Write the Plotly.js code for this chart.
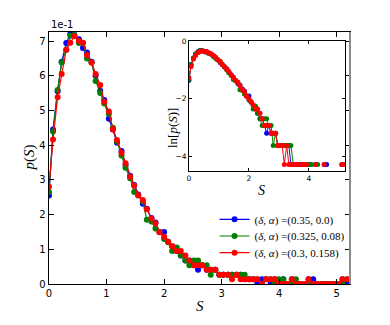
<!DOCTYPE html>
<html>
<head>
<meta charset="utf-8">
<script src="https://cdn.plot.ly/plotly-3.0.1.min.js"></script>
<style>
  html, body { margin: 0; padding: 0; background: #fff; }
  #chart { width: 390px; height: 325px; }
</style>
</head>
<body>
<div id="chart"></div>
<script>
// bin centres S, shared by the three runs
const S = [
  0.00, 0.07, 0.15, 0.22, 0.30, 0.37, 0.44, 0.52, 0.59, 0.66,
  0.74, 0.81, 0.89, 0.96, 1.04, 1.11, 1.18, 1.26, 1.33, 1.41,
  1.48, 1.55, 1.63, 1.70, 1.78, 1.85, 1.92, 2.00, 2.07, 2.14,
  2.22, 2.29, 2.37, 2.44, 2.52, 2.59, 2.66, 2.74, 2.81, 2.89,
  2.96, 3.03, 3.11, 3.18, 3.26, 3.33, 3.40, 3.48, 3.55, 3.62,
  3.70, 3.77, 3.85, 3.92, 3.99, 4.07, 4.14, 4.22, 4.29, 4.36,
  4.44, 4.51, 4.59, 4.66, 4.74, 4.81, 4.88, 4.96, 5.03, 5.10,
  5.18
];

// p(S) in units of 1e-1
const pBlue = [
  2.55, 4.45, 5.55, 6.40, 6.94, 7.20, 7.18, 7.05, 6.80, 6.67,
  6.40, 6.00, 5.57, 5.30, 4.76, 4.45, 4.07, 3.83, 3.43, 3.12,
  2.85, 2.58, 2.31, 2.17, 1.90, 1.77, 1.50, 1.50, 1.22, 1.09,
  0.95, 0.82, 0.68, 0.68, 0.54, 0.41, 0.54, 0.41, 0.41, 0.41,
  0.27, 0.27, 0.27, 0.27, 0.27, 0.27, 0.14, 0.14, 0.14, 0,
  0.14, 0.14, 0, 0.14, 0, 0.14, 0, 0.14, 0, 0,
  0, 0.14, 0.14, 0, 0, 0, 0, 0, 0, 0.14,
  0
];
const pGreen = [
  2.65, 4.39, 5.59, 6.38, 6.75, 7.15, 7.18, 6.94, 6.94, 6.50,
  6.38, 5.85, 5.50, 5.20, 4.90, 4.50, 4.10, 3.70, 3.35, 3.05,
  2.65, 2.55, 2.38, 1.85, 1.80, 1.60, 1.50, 1.30, 1.20, 0.95,
  1.05, 0.82, 0.68, 0.54, 0.68, 0.68, 0.54, 0.54, 0.27, 0.41,
  0.27, 0.27, 0.27, 0.27, 0.27, 0.27, 0.27, 0.14, 0.14, 0.14,
  0, 0.14, 0.14, 0, 0.14, 0.14, 0, 0, 0.14, 0,
  0, 0, 0, 0, 0, 0, 0, 0, 0, 0,
  0.14
];
const pRed = [
  2.80, 4.16, 5.38, 6.05, 6.75, 6.95, 7.14, 7.00, 6.95, 6.60,
  6.38, 6.05, 5.73, 5.25, 4.97, 4.46, 4.15, 3.78, 3.48, 3.09,
  2.83, 2.56, 2.42, 2.15, 1.89, 1.75, 1.49, 1.36, 1.22, 1.09,
  0.95, 0.95, 0.82, 0.68, 0.54, 0.54, 0.54, 0.41, 0.41, 0.41,
  0.27, 0.27, 0.27, 0.14, 0.27, 0.14, 0.14, 0.14, 0.14, 0.14,
  0, 0.14, 0.14, 0.14, 0, 0, 0, 0.14, 0, 0,
  0, 0.14, 0, 0, 0, 0, 0, 0, 0, 0.14,
  0.14
];

const names = [
  '(<i>δ</i>, <i>α</i>) =(0.35, 0.0)',
  '(<i>δ</i>, <i>α</i>) =(0.325, 0.08)',
  '(<i>δ</i>, <i>α</i>) =(0.3, 0.158)'
];
const colors = ['#0000ff', '#008000', '#ff0000'];
const series = [pBlue, pGreen, pRed];
const legendIds = ['legend', 'legend2', 'legend3'];

const traces = [];
// main panel
series.forEach((p, k) => {
  traces.push({
    x: S, y: p, mode: 'lines+markers', name: names[k],
    legend: legendIds[k],
    line: { color: colors[k], width: 1.2 },
    marker: { color: colors[k], size: 6 },
    xaxis: 'x', yaxis: 'y'
  });
});
// inset: ln of the same histograms (empty bins dropped)
series.forEach((p, k) => {
  traces.push({
    x: S, y: p.map(v => v > 0 ? Math.log(v * 0.1) : null),
    mode: 'lines+markers', showlegend: false,
    line: { color: colors[k], width: 1 },
    marker: { color: colors[k], size: 5 },
    xaxis: 'x2', yaxis: 'y2'
  });
});

const tickFont = { family: 'DejaVu Sans', size: 10, color: '#000' };
const smallFont = { family: 'DejaVu Sans', size: 7.5, color: '#000' };
const serif = 'Liberation Serif';

function legendAt(y) {
  return {
    x: 0.55, y: y, xanchor: 'left', yanchor: 'top',
    bgcolor: 'rgba(0,0,0,0)', borderwidth: 0, itemwidth: 30,
    font: { family: serif, size: 11, color: '#000' }
  };
}

const layout = {
  width: 390, height: 325,
  margin: { l: 49, r: 40, t: 32, b: 41 },
  paper_bgcolor: '#fff', plot_bgcolor: '#fff',
  showlegend: true,
  legend: legendAt(0.314),
  legend2: legendAt(0.248),
  legend3: legendAt(0.182),
  xaxis: {
    domain: [0, 1], range: [0, 5.23],
    tickvals: [0, 1, 2, 3, 4, 5],
    ticks: 'inside', ticklen: 5, tickcolor: '#000',
    showline: true, linecolor: '#000', linewidth: 1.3, mirror: 'ticks',
    showgrid: false, zeroline: false, tickfont: tickFont
  },
  yaxis: {
    domain: [0, 1], range: [0, 7.26],
    tickvals: [0, 1, 2, 3, 4, 5, 6, 7],
    ticks: 'inside', ticklen: 5, tickcolor: '#000',
    showline: true, linecolor: '#000', linewidth: 1.3, mirror: 'ticks',
    showgrid: false, zeroline: false, tickfont: tickFont
  },
  xaxis2: {
    domain: [0.465, 0.983], anchor: 'y2', range: [0, 5.2],
    tickvals: [0, 2, 4],
    ticks: 'inside', ticklen: 3, tickcolor: '#000',
    showline: true, linecolor: '#000', linewidth: 1, mirror: 'ticks',
    showgrid: false, zeroline: false, tickfont: smallFont
  },
  yaxis2: {
    domain: [0.448, 0.964], anchor: 'x2', range: [-4.5, 0],
    tickvals: [-4, -2, 0], ticktext: ['−4', '−2', '0'],
    ticks: 'inside', ticklen: 3, tickcolor: '#000',
    showline: true, linecolor: '#000', linewidth: 1, mirror: 'ticks',
    showgrid: false, zeroline: false, tickfont: smallFont
  },
  shapes: [
    // right spine of the main panel renders grey in the original
    { type: 'line', xref: 'paper', yref: 'paper', x0: 1, x1: 1, y0: 0, y1: 1,
      line: { color: '#8c8c8c', width: 2 } }
  ],
  annotations: [
    { text: '1e-1', xref: 'paper', yref: 'paper', x: 0, y: 1, xanchor: 'left', yanchor: 'bottom',
      yshift: 0, showarrow: false, font: tickFont },
    { text: '<i>p</i>(<i>S</i>)', xref: 'paper', yref: 'paper', x: 0, y: 0.5, xshift: -31,
      textangle: -90, showarrow: false, font: { family: serif, size: 15, color: '#000' } },
    { text: '<i>S</i>', xref: 'paper', yref: 'paper', x: 0.5, y: 0, yshift: -22,
      yanchor: 'middle', showarrow: false, font: { family: serif, size: 15, color: '#000' } },
    { text: 'ln[<i>p</i>(<i>S</i>)]', xref: 'paper', yref: 'paper', x: 0.465, y: 0.706, xshift: -17,
      textangle: -90, showarrow: false, font: { family: serif, size: 13, color: '#000' } },
    { text: '<i>S</i>', xref: 'paper', yref: 'paper', x: 0.724, y: 0.448, yshift: -19,
      yanchor: 'middle', showarrow: false, font: { family: serif, size: 14, color: '#000' } }
  ]
};

Plotly.newPlot('chart', traces, layout, { displayModeBar: false, staticPlot: true });
</script>
</body>
</html>
